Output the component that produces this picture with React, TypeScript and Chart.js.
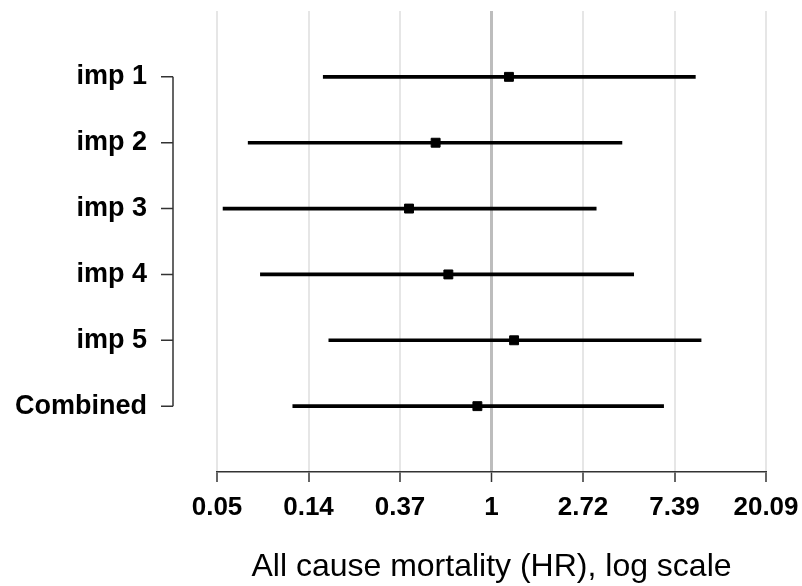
import React, { useEffect, useRef } from "react";
import { Chart, registerables } from "chart.js";

Chart.register(...registerables);

const categories = ["imp 1", "imp 2", "imp 3", "imp 4", "imp 5", "Combined"];
const estimates = [1.21, 0.543, 0.406, 0.624, 1.28, 0.857];
const lowerCI = [0.159, 0.07, 0.0532, 0.08, 0.169, 0.114];
const upperCI = [9.28, 4.16, 3.14, 4.73, 9.88, 6.56];
const tickPowers = [-3, -2, -1, 0, 1, 2, 3];
const tickLabels = ["0.05", "0.14", "0.37", "1", "2.72", "7.39", "20.09"];
const xTitle = "All cause mortality (HR), log scale";

const FONT = "'Liberation Sans', Arial, sans-serif";

const bracketPlugin = {
  id: "bracket",
  afterDraw(chart: any) {
    const ys = chart.scales.y;
    const ctx = chart.ctx;
    const x = chart.chartArea.left - 44;
    const top = ys.getPixelForValue(1);
    const bottom = ys.getPixelForValue(categories.length);
    ctx.save();
    ctx.strokeStyle = "#333";
    ctx.lineWidth = 1.5;
    ctx.beginPath();
    ctx.moveTo(x, top);
    ctx.lineTo(x, bottom);
    for (let i = 1; i <= categories.length; i++) {
      const y = ys.getPixelForValue(i);
      ctx.moveTo(x - 12, y);
      ctx.lineTo(x, y);
    }
    ctx.stroke();
    ctx.restore();
  },
};

export default function App() {
  const ref = useRef<HTMLCanvasElement | null>(null);
  useEffect(() => {
    document.body.style.margin = "0";
    document.body.style.overflow = "hidden";
    const labels = ["", ...categories, ""];
    const ranges = [null, ...categories.map((_, i) => [lowerCI[i], upperCI[i]]), null];
    const points = categories.map((c, i) => ({ x: estimates[i], y: c }));
    const chart = new Chart(ref.current as HTMLCanvasElement, {
      type: "bar",
      data: {
        labels,
        datasets: [
          {
            type: "bar",
            data: ranges as any,
            backgroundColor: "#000",
            borderWidth: 0,
            barThickness: 3,
          },
          {
            type: "line",
            data: points as any,
            showLine: false,
            pointStyle: "rect",
            pointRadius: 6.3,
            pointBorderWidth: 1,
            pointBackgroundColor: "#000",
            pointBorderColor: "#000",
          } as any,
        ],
      },
      plugins: [bracketPlugin],
      options: {
        indexAxis: "y",
        animation: false,
        responsive: false,
        devicePixelRatio: 1,
        layout: { autoPadding: false, padding: { top: 11, right: 36, left: 0, bottom: 0 } },
        plugins: { legend: { display: false }, tooltip: { enabled: false } },
        scales: {
          x: {
            type: "logarithmic",
            min: Math.exp(-3),
            max: Math.exp(3),
            afterBuildTicks: (scale: any) => {
              scale.ticks = tickPowers.map((p) => ({ value: Math.exp(p) }));
            },
            afterFit: (scale: any) => {
              scale.height = 114;
              scale.paddingLeft = 0;
              scale.paddingRight = 0;
            },
            ticks: {
              autoSkip: false,
              maxRotation: 0,
              padding: 10,
              color: "#000",
              font: { family: FONT, size: 26, weight: "bold" },
              callback: (_v: any, i: number) => tickLabels[i],
            },
            grid: {
              color: (c: any) => (c.tick && Math.abs(c.tick.value - 1) < 1e-9 ? "#bdbdbd" : "#e6e6e6"),
              lineWidth: (c: any) => (c.tick && Math.abs(c.tick.value - 1) < 1e-9 ? 3 : 2),
              tickColor: "#333",
              tickWidth: 1.5,
              tickLength: 10,
            },
            border: { display: true, color: "#333", width: 1.5 },
            title: {
              display: true,
              text: xTitle,
              color: "#000",
              font: { family: FONT, size: 32, weight: "normal" },
              padding: { top: 0, bottom: 0 },
            },
          },
          y: {
            type: "category",
            offset: false,
            afterFit: (scale: any) => {
              scale.width = 217;
              scale.paddingTop = 0;
              scale.paddingBottom = 0;
            },
            ticks: {
              autoSkip: false,
              padding: 0,
              color: "#000",
              font: { family: FONT, size: 27, weight: "bold" },
            },
            grid: { display: true, drawOnChartArea: false, drawTicks: true, tickLength: 70, tickColor: "rgba(0,0,0,0)", color: "rgba(0,0,0,0)" },
            border: { display: false },
          },
        },
      } as any,
    });
    return () => chart.destroy();
  }, []);
  return <canvas ref={ref} width={802} height={586} style={{ display: "block" }} />;
}
